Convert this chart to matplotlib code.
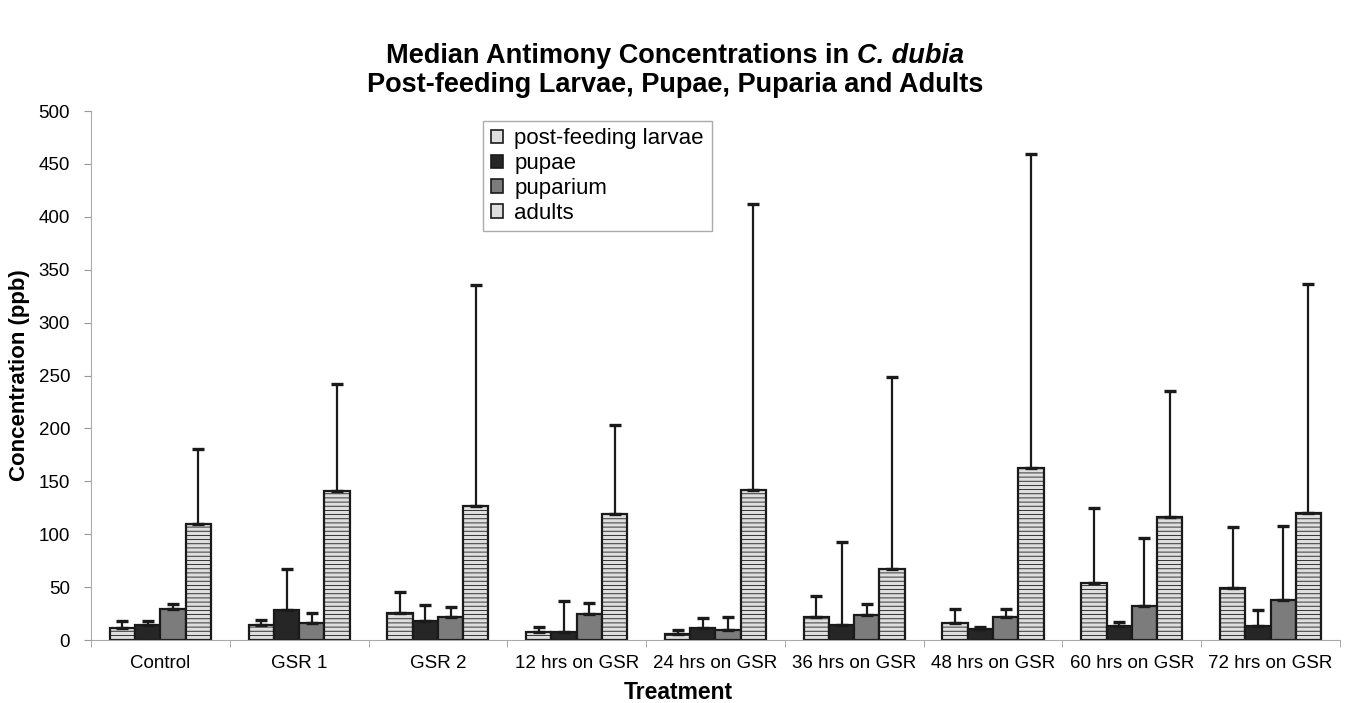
import numpy as np
import matplotlib.pyplot as plt

plt.rcParams['font.family'] = ['Liberation Sans', 'DejaVu Sans']
plt.rcParams['hatch.color'] = '#c4c4c4'
plt.rcParams['hatch.linewidth'] = 0.6

# data
treatments = ['Control', 'GSR 1', 'GSR 2', '12 hrs on GSR', '24 hrs on GSR',
              '36 hrs on GSR', '48 hrs on GSR', '60 hrs on GSR', '72 hrs on GSR']
series = ['post-feeding larvae', 'pupae', 'puparium', 'adults']

larvae = [11, 14, 26, 8, 6, 22, 16, 54, 49]
larvae_top = [18, 19, 45, 12, 9, 42, 29, 125, 107]
pupae = [14, 28, 18, 8, 11, 14, 10, 13, 13]
pupae_top = [18, 67, 33, 37, 21, 93, 12, 17, 28]
puparium = [29, 16, 22, 25, 9, 24, 22, 32, 38]
puparium_top = [34, 26, 31, 35, 22, 34, 29, 96, 108]
adults = [110, 141, 127, 119, 142, 67, 163, 116, 120]
adults_top = [181, 242, 336, 203, 412, 249, 459, 235, 337]

values = [larvae, pupae, puparium, adults]
tops = [larvae_top, pupae_top, puparium_top, adults_top]
colors = ['#dedede', '#262626', '#7c7c7c', '#dedede']
hatches = ['----', None, None, '----']

fig = plt.figure(figsize=(13.48, 7.03), dpi=100)
ax = fig.add_axes([0.0675, 0.0896, 0.9265, 0.7524])

x = np.arange(len(treatments))
w = 0.182
for i in range(4):
    pos = x + (i - 1.5) * w
    v = np.array(values[i])
    err = np.array(tops[i]) - v
    ax.bar(pos, v, w, color=colors[i], edgecolor='#1a1a1a', linewidth=1.6,
           hatch=hatches[i], label=series[i], zorder=2)
    ax.errorbar(pos, v, yerr=[np.zeros_like(err), err], fmt='none',
                ecolor='#1a1a1a', elinewidth=1.6, capsize=4.5, capthick=2.4, zorder=3)

ax.set_xlim(-0.5, len(treatments) - 0.5)
ax.set_ylim(0, 500)
ax.set_yticks(np.arange(0, 501, 50))
ax.set_xticks(x)
ax.set_xticklabels(treatments, fontsize=13.5)
ax.set_xticks(np.arange(-0.5, len(treatments), 1), minor=True)
ax.tick_params(axis='x', which='major', length=0, pad=11)
ax.tick_params(axis='x', which='minor', length=5, color='#999999')
ax.tick_params(axis='y', labelsize=13.5, length=5, color='#999999', pad=10)
for s in ['top', 'right']:
    ax.spines[s].set_visible(False)
for s in ['left', 'bottom']:
    ax.spines[s].set_color('#aaaaaa')

ax.set_ylabel('Concentration (ppb)', fontsize=16, fontweight='bold', labelpad=6)
ax.set_xlabel('Treatment', fontsize=16.5, fontweight='bold', va='center')
ax.xaxis.set_label_coords(0.47, -0.099)

leg = ax.legend(loc='upper left', bbox_to_anchor=(0.314, 0.982), fontsize=16,
                handlelength=0.55, handleheight=0.55, handletextpad=0.5,
                labelspacing=0.17, borderpad=0.35, borderaxespad=0,
                fancybox=False, edgecolor='#aaaaaa', framealpha=1)
for h in leg.legend_handles:
    h.set_hatch(None)
    h.set_linewidth(1.2)

# title with italic species name
fig.canvas.draw()
r = fig.canvas.get_renderer()
ty = 1 - 56 / 703
t1 = fig.text(0, ty, 'Median Antimony Concentrations in ', fontsize=19.5,
              fontweight='bold', va='center')
t2 = fig.text(0, ty, 'C. dubia', fontsize=19.5, fontweight='bold',
              style='italic', va='center')
w1 = t1.get_window_extent(r).width / fig.bbox.width
w2 = t2.get_window_extent(r).width / fig.bbox.width
x0 = 0.501 - (w1 + w2) / 2
t1.set_x(x0)
t2.set_x(x0 + w1)
fig.text(0.501, 1 - 85 / 703, 'Post-feeding Larvae, Pupae, Puparia and Adults',
         fontsize=19.5, fontweight='bold', ha='center', va='center')

fig.savefig('out.png', dpi=100)
